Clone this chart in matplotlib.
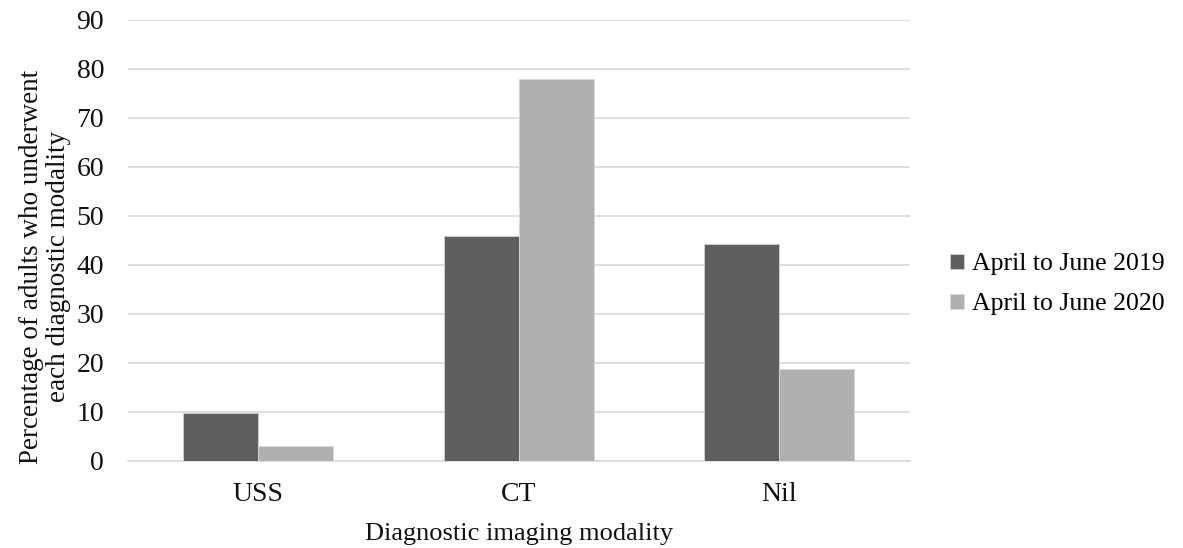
import numpy as np
import matplotlib.pyplot as plt

# Values
categories = ['USS', 'CT', 'Nil']
series_names = ['April to June 2019', 'April to June 2020']
values_2019 = [9.7, 45.9, 44.3]
values_2020 = [3.1, 77.9, 18.7]
yticks = list(range(0, 100, 10))

plt.rcParams['font.family'] = ['Liberation Serif', 'DejaVu Serif']

fig = plt.figure(figsize=(11.83, 5.48), dpi=100)
ax = fig.add_axes([0.108, 0.159, 0.661, 0.805])

x = np.arange(len(categories))
w = 0.2875
ax.bar(x - w / 2, values_2019, w, color='#5f5f5f', edgecolor='#d0d0d0',
       linewidth=0.6, label=series_names[0], zorder=3)
ax.bar(x + w / 2, values_2020, w, color='#b0b0b0', edgecolor='#d8d8d8',
       linewidth=0.6, label=series_names[1], zorder=3)

ax.set_xlim(-0.5, len(categories) - 0.5)
ax.set_ylim(0, 90)
ax.set_yticks(yticks)
ax.set_xticks(x)
ax.set_xticklabels(categories)
ax.tick_params(axis='both', length=0, labelsize=20, colors='#111111')
ax.tick_params(axis='x', pad=15)
ax.tick_params(axis='y', pad=17)
ax.yaxis.grid(True, color='#d9d9d9', linewidth=1.2, zorder=0)

for side in ['top', 'right', 'left']:
    ax.spines[side].set_visible(False)
ax.spines['bottom'].set_color('#d9d9d9')
ax.spines['bottom'].set_linewidth(1.2)

ax.set_xlabel('Diagnostic imaging modality', fontsize=19, labelpad=12, color='#111111')
ax.set_ylabel('Percentage of adults who underwent\neach diagnostic modality',
              fontsize=19.5, color='#111111', linespacing=1.1)
ax.yaxis.set_label_coords(-0.073, 0.44)

ax.legend(loc='center left', bbox_to_anchor=(1.022, 0.40), frameon=False,
          fontsize=18.5, handlelength=0.55, handleheight=0.55, handletextpad=0.3,
          labelspacing=0.7)

plt.savefig('out.png', dpi=100)
